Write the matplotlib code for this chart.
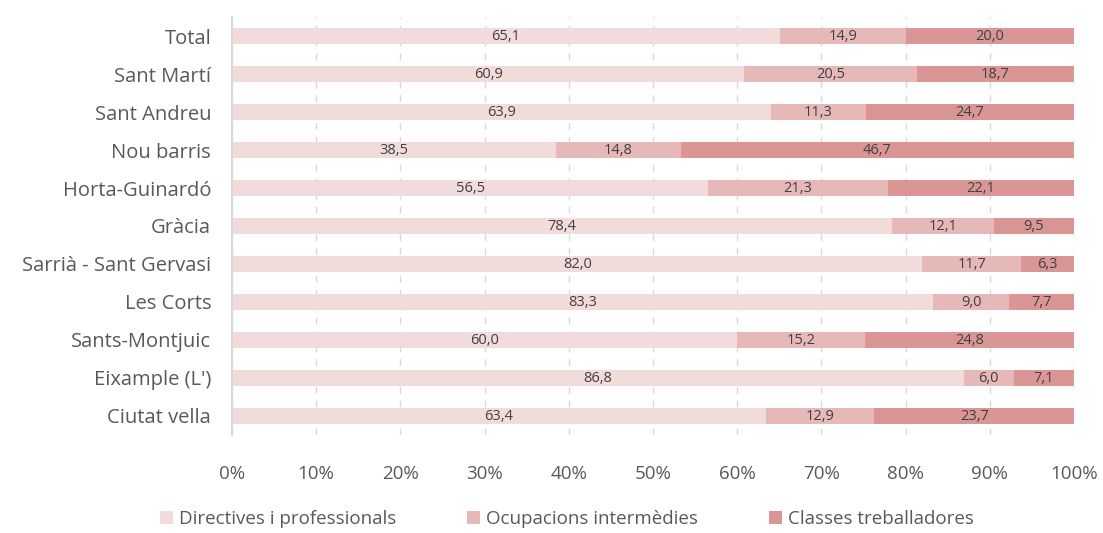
import matplotlib
matplotlib.use("Agg")
import matplotlib.pyplot as plt
import numpy as np
from matplotlib.ticker import FuncFormatter

categories = ["Total", "Sant Martí", "Sant Andreu", "Nou barris", "Horta-Guinardó",
              "Gràcia", "Sarrià - Sant Gervasi", "Les Corts", "Sants-Montjuic",
              "Eixample (L')", "Ciutat vella"]
directives = [65.1, 60.9, 63.9, 38.5, 56.5, 78.4, 82.0, 83.3, 60.0, 86.8, 63.4]
intermedies = [14.9, 20.5, 11.3, 14.8, 21.3, 12.1, 11.7, 9.0, 15.2, 6.0, 12.9]
treballadores = [20.0, 18.7, 24.7, 46.7, 22.1, 9.5, 6.3, 7.7, 24.8, 7.1, 23.7]
series_names = ["Directives i professionals", "Ocupacions intermèdies", "Classes treballadores"]
colors = ["#F2DCDB", "#E6B9B8", "#D99694"]

plt.rcParams['font.family'] = ['Open Sans', 'DejaVu Sans']
fig = plt.figure(figsize=(11.03, 5.33), dpi=100)
ax = fig.add_axes([0.2103, 0.184, 0.7634, 0.784])

data = np.array([directives, intermedies, treballadores])
totals = data.sum(axis=0)
pct = data / totals * 100
y = np.arange(len(categories))[::-1]
left = np.zeros(len(categories))
for i in range(3):
    ax.barh(y, pct[i], left=left, height=0.44, color=colors[i], label=series_names[i], zorder=2)
    for j in range(len(categories)):
        ax.text(left[j] + pct[i][j] / 2, y[j] - 0.02, f"{data[i][j]:.1f}".replace(".", ","),
                ha="center", va="center", fontsize=10.5, color="#404040", zorder=3)
    left += pct[i]

ax.set_xlim(0, 100)
ax.set_ylim(-0.5, len(categories) - 0.5)
ax.set_yticks(y)
ax.set_yticklabels(categories, fontsize=14.5, color="#595959")
ax.set_xticks(np.arange(0, 101, 10))
ax.xaxis.set_major_formatter(FuncFormatter(lambda v, p: f"{int(v)}%"))
ax.tick_params(axis='x', labelsize=13.5, colors="#595959", length=0, pad=22)
ax.tick_params(axis='y', length=0, pad=15)
ax.grid(axis='x', color="#D9D9D9", linestyle=(0, (5, 5)), linewidth=1, zorder=0)
for s in ["top", "right", "bottom"]:
    ax.spines[s].set_visible(False)
ax.spines["left"].set_color("#D9D9D9")
ax.spines["left"].set_linewidth(1.5)

fig.legend(loc="lower center", bbox_to_anchor=(0.514, -0.022), ncol=3, frameon=False,
           fontsize=13.5, labelcolor="#595959", handlelength=0.7, handleheight=0.7,
           handletextpad=0.3, columnspacing=3.8)
fig.savefig("out.png", dpi=100)
